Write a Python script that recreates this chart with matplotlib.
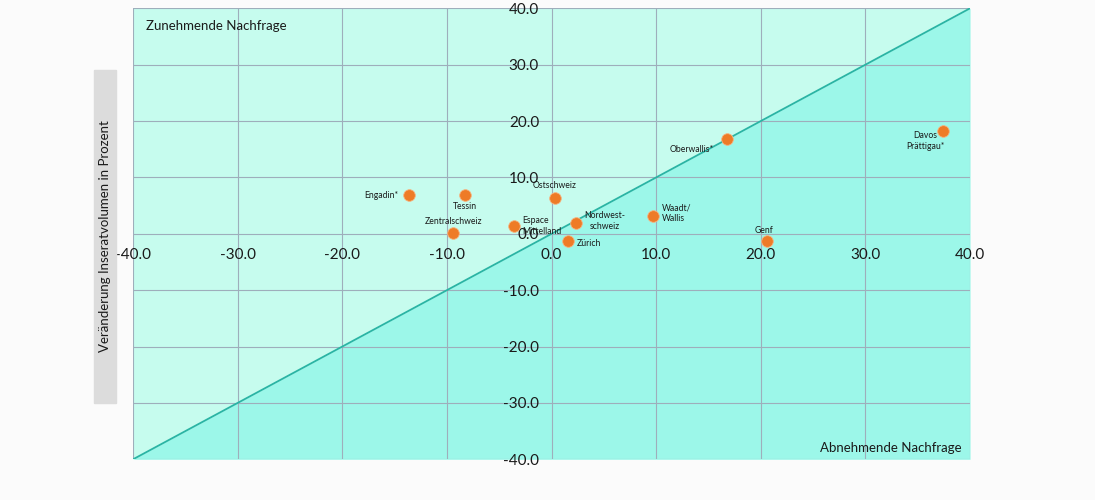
import matplotlib
matplotlib.use('Agg')
import matplotlib.pyplot as plt
from matplotlib.patches import Rectangle

# Regionen und Veränderungen (Nachfrage vs. Inseratvolumen), in Prozent
regionen = ['Engadin*', 'Tessin', 'Ostschweiz', 'Zentralschweiz', 'Espace\nMittelland',
            'Nordwest-\nschweiz', 'Zürich', 'Oberwallis*', 'Davos\nPrättigau*',
            'Waadt/\nWallis', 'Genf']
nachfrage = [-13.6, -8.3, 0.3, -9.4, -3.6, 2.3, 1.6, 16.8, 37.4, 9.7, 20.6]
inserate = [6.8, 6.8, 6.3, 0.1, 1.4, 2.0, -1.2, 16.8, 18.3, 3.2, -1.2]

# Beschriftungs-Platzierung: (dx, dy in Punkten, ha, va, Ausrichtung)
label_pos = [(-8, 0, 'right', 'center', 'left'),
             (0, -5, 'center', 'top', 'center'),
             (0, 6, 'center', 'bottom', 'center'),
             (0, 5, 'center', 'bottom', 'center'),
             (6, 0, 'left', 'center', 'left'),
             (6, 1, 'left', 'center', 'center'),
             (6, -2, 'left', 'center', 'left'),
             (-10, -4, 'right', 'top', 'left'),
             (1, -0.5, 'right', 'top', 'center'),
             (6, 2, 'left', 'center', 'left'),
             (-2, 4, 'center', 'bottom', 'center')]

ticks = list(range(-40, 41, 10))

plt.rcParams['font.family'] = ['Lato', 'DejaVu Sans']

fig = plt.figure(figsize=(10.95, 5.0), dpi=100, facecolor='#fbfbfb')
ax = fig.add_axes([0.1215, 0.0814, 0.7644, 0.902])
ax.set_facecolor('#fbfbfb')

# Hintergrundflächen und Diagonale
diag = [-40, 40]
ax.fill_between(diag, diag, [40, 40], color='#c6fcee', zorder=0, lw=0)
ax.fill_between(diag, [-40, -40], diag, color='#9cf7e9', zorder=0, lw=0)
ax.plot(diag, diag, color='#2ab4a4', lw=1.3, zorder=2)

ax.set_xlim(-40, 40)
ax.set_ylim(-40, 40)
ax.set_xticks(ticks)
ax.set_yticks(ticks)
ax.set_xticklabels([f'{t:.1f}' for t in ticks])
ax.set_yticklabels([f'{t:.1f}' for t in ticks])
ax.grid(True, color='#9eaebb', lw=0.8, zorder=1)
ax.set_axisbelow(True)

for s in ['top', 'right']:
    ax.spines[s].set_visible(False)
ax.spines['left'].set_position('zero')
ax.spines['bottom'].set_position('zero')
ax.spines['left'].set_visible(False)
ax.spines['bottom'].set_visible(False)
ax.tick_params(axis='both', length=0, labelsize=11, labelcolor='#1a1a1a')
ax.tick_params(axis='x', pad=10)
ax.tick_params(axis='y', pad=9)

ax.scatter(nachfrage, inserate, s=70, color='#ee7b27', edgecolor='#f6b27e',
           linewidth=0.6, zorder=4)

for name, x, y, (dx, dy, ha, va, ma) in zip(regionen, nachfrage, inserate, label_pos):
    ax.annotate(name, (x, y), xytext=(dx, dy), textcoords='offset points',
                ha=ha, va=va, multialignment=ma, fontsize=6.2,
                color='#1a1a1a', zorder=5)

ax.text(0.016, 0.975, 'Zunehmende Nachfrage', transform=ax.transAxes,
        fontsize=9.5, color='#1a1a1a', ha='left', va='top')
ax.text(0.99, 0.012, 'Abnehmende Nachfrage', transform=ax.transAxes,
        fontsize=9.5, color='#1a1a1a', ha='right', va='bottom')

# grauer Kasten mit Achsentitel
fig.patches.append(Rectangle((94 / 1095, 1 - 403 / 500), 22 / 1095, 333 / 500,
                             transform=fig.transFigure, color='#dcdcdc', zorder=0))
fig.text(105 / 1095, 1 - 236 / 500, 'Veränderung Inseratvolumen in Prozent',
         rotation=90, ha='center', va='center', fontsize=9.5, color='#1a1a1a')

fig.savefig('out.png', dpi=100, facecolor=fig.get_facecolor())
